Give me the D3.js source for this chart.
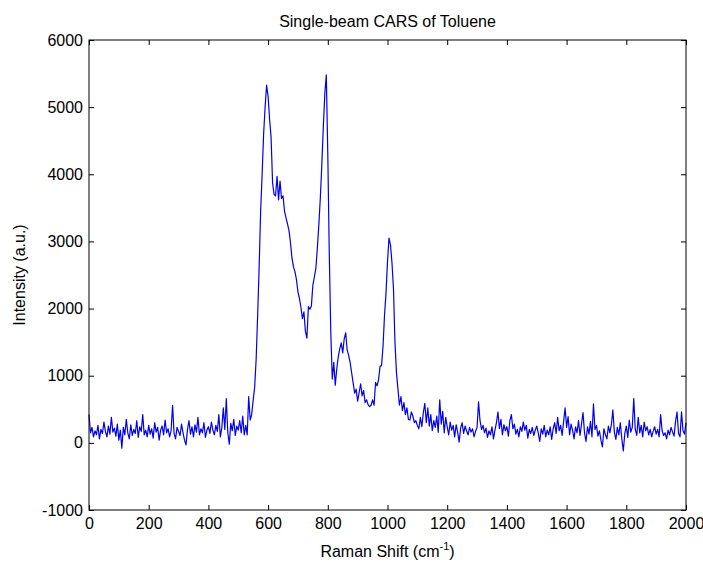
<!DOCTYPE html>
<html>
<head>
<meta charset="utf-8">
<script src="https://cdn.jsdelivr.net/npm/d3@7"></script>
<style>
  html, body { margin: 0; padding: 0; background: #fff; }
  svg text { font-family: "Liberation Sans", Arial, sans-serif; fill: #000; }
</style>
</head>
<body>
<svg id="chart" width="703" height="565"></svg>
<script>
// Raman shift sampling grid (cm^-1)
const shiftStart = 0;
const shiftStep = 5;

// CARS intensity (a.u.), one row per 100 cm^-1
const intensity = [
  420, 150, 230, 90, 180, 120, 260, 60, 200, 140, 310, 170, 90, 250, 130, 380, 160, 220, 100, 280,
  40, 190, -80, 230, 120, 350, 150, 60, 270, 110, 200, 140, 330, 80, 240, 170, 420, 120, 190, 90,
  260, 130, 210, 70, 300, 160, 230, 40, 190, 250, 120, 340, 150, 210, 90, 180, 560, 140, 60, 230,
  170, 110, 280, 150, 40, -30, 200, 330, 130, 240, 90, 270, 160, 380, 120, 210, 150, 300, 80, 190,
  240, 140, 310, 190, 120, 260, 170, 420, 90, 230, 520, 200, 660, 150, -20, 290, 180, 350, 110, 250,
  190, 330, 150, 400, 120, 260, 120, 690, 340, 420, 640, 830, 1250, 1900, 2620, 3450, 4000, 4600, 5000, 5330,
  5160, 4820, 4550, 3870, 3700, 3680, 3970, 3620, 3900, 3640, 3680, 3450, 3350, 3260, 3160, 2980, 2750, 2620, 2550, 2430,
  2250, 2150, 2020, 1850, 1950, 1660, 1560, 2030, 1990, 2040, 2350, 2470, 2600, 2900, 3250, 3650, 4150, 4710, 5200, 5480,
  4300, 2800, 1650, 950, 1200, 860, 1100, 1280, 1400, 1490, 1340, 1550, 1640, 1380, 1300, 1190, 1040, 890, 740, 800,
  620, 750, 880, 700, 780, 600, 640, 570, 540, 560, 640, 560, 900, 850, 940, 1140, 1150, 1440, 1900, 2230,
  2700, 3050, 2950, 2680, 2300, 1500, 1050, 800, 560, 690, 480, 600, 420, 520, 350, 340, 460, 400, 300, 330,
  260, 210, 380, 240, 450, 590, 300, 520, 250, 420, 180, 330, 230, 400, 160, 640, 280, 470, 150, 380,
  240, 120, 310, 190, 260, 90, 270, 160, 10, 220, 300, 140, 250, 180, 120, 230, 160, 210, 90, 170,
  230, 610, 330, 200, 260, 150, 220, 80, 180, 120, 240, 60, 190, 300, 460, 210, 350, 120, 270, 180,
  240, 100, 330, 420, 210, 280, 130, 200, 90, 240, 170, 310, 190, 260, 70, 200, 140, 230, 110, 190,
  250, 150, 20, 210, 130, 260, 90, 190, 120, 240, 50, 210, 300, 140, 380, 180, 260, 110, 320, 520,
  230, 390, 120, 280, 190, 60, 240, 150, 330, 110, 280, 450, 150, 20, 240, 130, 320, 90, 580, 200,
  260, 100, 180, 40, -60, 210, 120, 60, 250, 150, 270, 490, 160, 50, 230, 120, 300, 60, -120, 140,
  250, 80, 340, 160, 230, 660, 200, 110, 380, 150, 260, 90, 310, 180, 240, 120, 200, 90, 170, 240,
  130, 200, 90, 420, 180, 110, 150, 60, 190, 120, 230, 160, 100, 320, 460, 140, 90, 460, 180, 130,
  300
];

const xTicks = [0, 200, 400, 600, 800, 1000, 1200, 1400, 1600, 1800, 2000];
const yTicks = [-1000, 0, 1000, 2000, 3000, 4000, 5000, 6000];

const titleText = "Single-beam CARS of Toluene";
const yLabelText = "Intensity (a.u.)";

const ramanShift = intensity.map((_, i) => shiftStart + i * shiftStep);
const spectrum = ramanShift.map((s, i) => ({ s, v: intensity[i] }));

const svg = d3.select("#chart");
const margin = { left: 89, right: 17, top: 40, bottom: 55 };
const W = 703, H = 565;
const iw = W - margin.left - margin.right;
const ih = H - margin.top - margin.bottom;

const x = d3.scaleLinear().domain([0, 2000]).range([0, iw]);
const y = d3.scaleLinear().domain([-1000, 6000]).range([ih, 0]);

const g = svg.append("g").attr("transform", `translate(${margin.left},${margin.top})`);

// spectrum trace
g.append("path")
  .datum(spectrum)
  .attr("fill", "none")
  .attr("stroke", "#0000ee")
  .attr("stroke-width", 1.2)
  .attr("stroke-linejoin", "round")
  .attr("d", d3.line().x(d => x(d.s)).y(d => y(d.v)));

// axes with inward ticks on all four sides
const tickLen = 5;
const fontSize = 16;
const plain = d => String(d);

const axBottom = g.append("g").attr("transform", `translate(0,${ih})`)
  .call(d3.axisBottom(x).tickValues(xTicks).tickFormat(plain).tickSizeInner(-tickLen).tickSizeOuter(0).tickPadding(8));
const axLeft = g.append("g")
  .call(d3.axisLeft(y).tickValues(yTicks).tickFormat(plain).tickSizeInner(-tickLen).tickSizeOuter(0).tickPadding(6));
const axTop = g.append("g")
  .call(d3.axisTop(x).tickValues(xTicks).tickSizeInner(-tickLen).tickSizeOuter(0).tickFormat(""));
const axRight = g.append("g").attr("transform", `translate(${iw},0)`)
  .call(d3.axisRight(y).tickValues(yTicks).tickSizeInner(-tickLen).tickSizeOuter(0).tickFormat(""));

[axBottom, axLeft, axTop, axRight].forEach(a => {
  a.select(".domain").remove();
  a.selectAll("line").attr("stroke", "#000").attr("stroke-width", 1);
  a.selectAll("text").attr("font-size", fontSize).attr("font-family", "Liberation Sans, Arial, sans-serif").attr("fill", "#000");
});

// plot frame
g.append("rect")
  .attr("x", 0).attr("y", 0).attr("width", iw).attr("height", ih)
  .attr("fill", "none").attr("stroke", "#000").attr("stroke-width", 1);

// title
svg.append("text")
  .attr("x", margin.left + iw / 2).attr("y", 27)
  .attr("text-anchor", "middle").attr("font-size", fontSize)
  .text(titleText);

// x axis label with superscript
const xl = svg.append("text")
  .attr("x", margin.left + iw / 2).attr("y", 557)
  .attr("text-anchor", "middle").attr("font-size", fontSize);
xl.append("tspan").text("Raman Shift (cm");
xl.append("tspan").attr("dy", -7).attr("font-size", 11).text("-1");
xl.append("tspan").attr("dy", 7).text(")");

// y axis label
svg.append("text")
  .attr("transform", `translate(25,${margin.top + ih / 2}) rotate(-90)`)
  .attr("text-anchor", "middle").attr("font-size", fontSize)
  .text(yLabelText);
</script>
</body>
</html>
